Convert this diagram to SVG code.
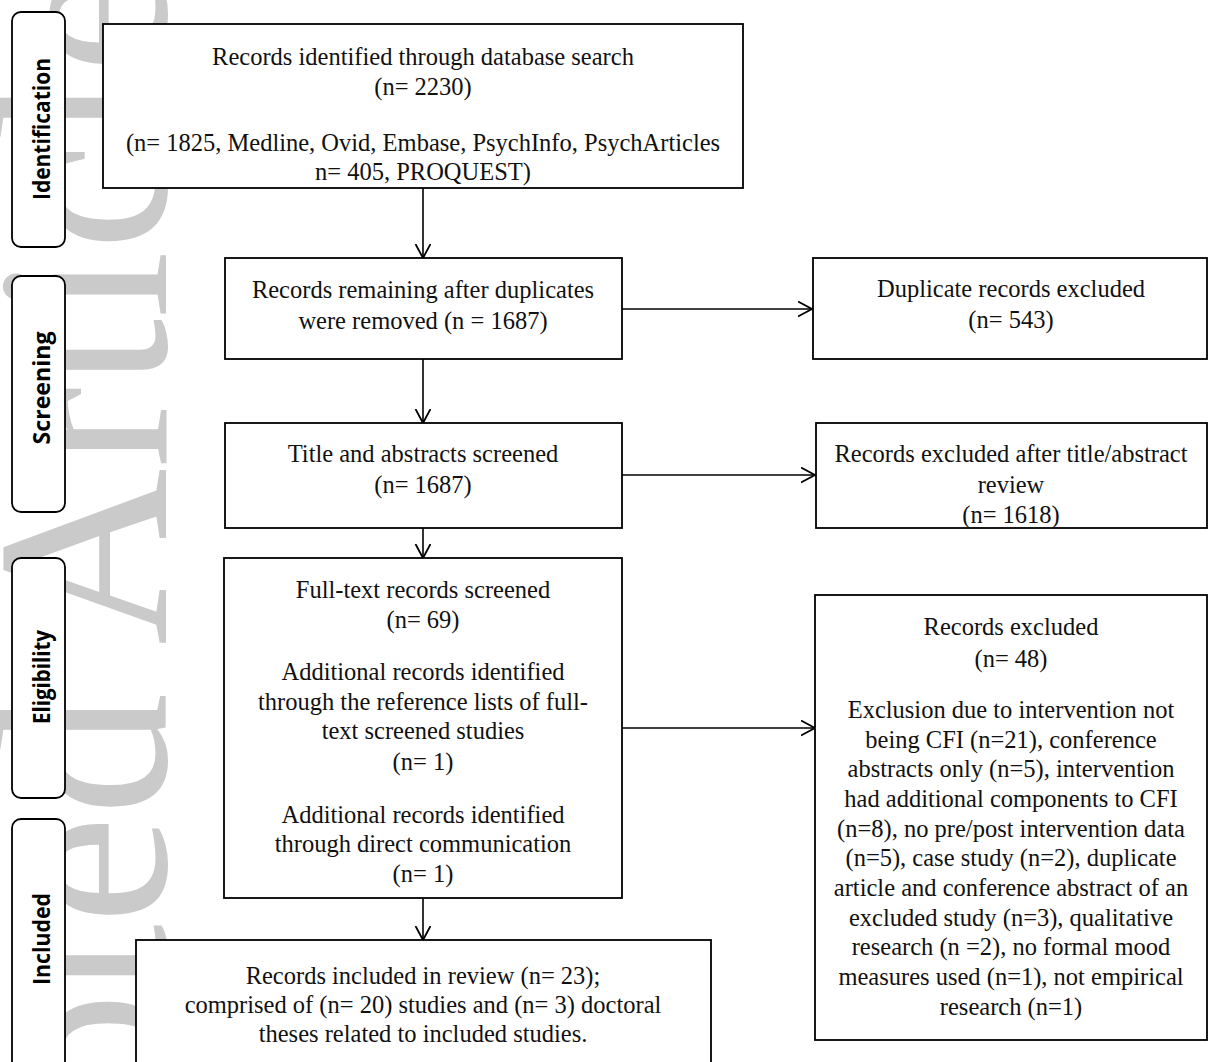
<svg xmlns="http://www.w3.org/2000/svg" width="1208" height="1062" viewBox="0 0 1208 1062">
<defs>
<style>
.box{fill:#fff;stroke:#000;stroke-width:1.8}
.phase{fill:#fff;stroke:#000;stroke-width:1.8}
.t{font-family:"Liberation Serif","Times New Roman",serif;font-size:24.5px;fill:#111;text-anchor:middle}
.p{font-family:"Open Sans","Liberation Sans",sans-serif;font-weight:700;font-size:23px;fill:#000;text-anchor:middle}
.wm{font-family:"Liberation Serif","Times New Roman",serif;font-size:245px;fill:#cacaca;text-anchor:end}
.c{fill:none;stroke:#000;stroke-width:1.6}
</style>
<marker id="ah" markerUnits="userSpaceOnUse" markerWidth="16" markerHeight="18" refX="14" refY="8" orient="auto">
<path d="M0,0.5 L14,8 L0,15.5" fill="none" stroke="#000" stroke-width="1.8"/>
</marker>
</defs>
<rect width="1208" height="1062" fill="#fff"/>
<g id="watermark">
<text class="wm" transform="translate(166,-35) rotate(-90)" x="0" y="0">Accepted Article</text>
</g>
<g id="phases">
<g id="phase-identification"><rect class="phase" x="12" y="12" width="53" height="235" rx="9"/><text class="p" transform="translate(50,129) rotate(-90)" textLength="142" lengthAdjust="spacingAndGlyphs">Identification</text></g>
<g id="phase-screening"><rect class="phase" x="12" y="276" width="53" height="236" rx="9"/><text class="p" transform="translate(50,388) rotate(-90)" textLength="113" lengthAdjust="spacingAndGlyphs">Screening</text></g>
<g id="phase-eligibility"><rect class="phase" x="12" y="558" width="53" height="240" rx="9"/><text class="p" transform="translate(50,677) rotate(-90)" textLength="94" lengthAdjust="spacingAndGlyphs">Eligibility</text></g>
<g id="phase-included"><rect class="phase" x="12" y="819" width="53" height="260" rx="9"/><text class="p" transform="translate(50,939) rotate(-90)" textLength="92" lengthAdjust="spacingAndGlyphs">Included</text></g>
</g>
<g id="connectors">
<line class="c" x1="423" y1="188" x2="423" y2="258" marker-end="url(#ah)"/>
<line class="c" x1="622" y1="309" x2="812" y2="309" marker-end="url(#ah)"/>
<line class="c" x1="423" y1="359" x2="423" y2="423" marker-end="url(#ah)"/>
<line class="c" x1="622" y1="475" x2="815" y2="475" marker-end="url(#ah)"/>
<line class="c" x1="423" y1="528" x2="423" y2="558" marker-end="url(#ah)"/>
<line class="c" x1="622" y1="728" x2="815" y2="728" marker-end="url(#ah)"/>
<line class="c" x1="423" y1="898" x2="423" y2="940" marker-end="url(#ah)"/>
</g>
<g id="n-identified"><rect class="box" x="103" y="24" width="640" height="164"/>
<text class="t" x="423" y="65">Records identified through database search</text>
<text class="t" x="423" y="95">(n= 2230)</text>
<text class="t" x="423" y="151">(n= 1825, Medline, Ovid, Embase, PsychInfo,  PsychArticles</text>
<text class="t" x="423" y="180">n= 405, PROQUEST)</text></g>
<g id="n-remaining"><rect class="box" x="225" y="258" width="397" height="101"/>
<text class="t" x="423" y="298">Records remaining after duplicates</text>
<text class="t" x="423" y="329">were removed (n = 1687)</text></g>
<g id="n-duplicates"><rect class="box" x="813" y="258" width="394" height="101"/>
<text class="t" x="1011" y="297">Duplicate records excluded</text>
<text class="t" x="1011" y="328">(n= 543)</text></g>
<g id="n-title"><rect class="box" x="225" y="423" width="397" height="105"/>
<text class="t" x="423" y="462">Title and abstracts screened</text>
<text class="t" x="423" y="493">(n= 1687)</text></g>
<g id="n-excl-title"><rect class="box" x="816" y="423" width="391" height="105"/>
<text class="t" x="1011" y="462">Records excluded after title/abstract</text>
<text class="t" x="1011" y="493">review</text>
<text class="t" x="1011" y="523">(n= 1618)</text></g>
<g id="n-fulltext"><rect class="box" x="224" y="558" width="398" height="340"/>
<text class="t" x="423" y="598">Full-text records screened</text>
<text class="t" x="423" y="628">(n= 69)</text>
<text class="t" x="423" y="680">Additional records identified</text>
<text class="t" x="423" y="710">through the reference lists of full-</text>
<text class="t" x="423" y="739">text screened studies</text>
<text class="t" x="423" y="770">(n= 1)</text>
<text class="t" x="423" y="823">Additional records identified</text>
<text class="t" x="423" y="852">through direct communication</text>
<text class="t" x="423" y="882">(n= 1)</text></g>
<g id="n-excluded"><rect class="box" x="815" y="595" width="392" height="445"/>
<text class="t" x="1011" y="635">Records excluded</text>
<text class="t" x="1011" y="667">(n= 48)</text>
<text class="t" x="1011" y="718">Exclusion due to intervention not</text>
<text class="t" x="1011" y="748">being CFI (n=21), conference</text>
<text class="t" x="1011" y="777">abstracts only (n=5), intervention</text>
<text class="t" x="1011" y="807">had additional components to CFI</text>
<text class="t" x="1011" y="837">(n=8), no pre/post intervention data</text>
<text class="t" x="1011" y="866">(n=5), case study (n=2), duplicate</text>
<text class="t" x="1011" y="896">article and conference abstract of an</text>
<text class="t" x="1011" y="926">excluded study (n=3), qualitative</text>
<text class="t" x="1011" y="955">research (n =2), no formal mood</text>
<text class="t" x="1011" y="985">measures used (n=1), not empirical</text>
<text class="t" x="1011" y="1015">research (n=1)</text></g>
<g id="n-included"><rect class="box" x="136" y="940" width="575" height="140"/>
<text class="t" x="423" y="984">Records included in review (n= 23);</text>
<text class="t" x="423" y="1013">comprised of (n= 20) studies  and (n= 3) doctoral</text>
<text class="t" x="423" y="1042">theses related to included studies.</text></g>
</svg>
